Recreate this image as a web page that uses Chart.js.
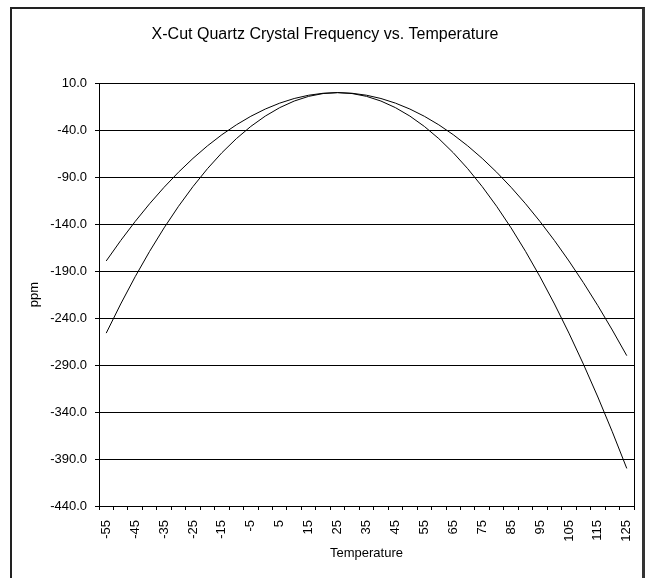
<!DOCTYPE html>
<html>
<head>
<meta charset="utf-8">
<script src="https://cdn.jsdelivr.net/npm/chart.js@4"></script>
<style>
  html, body { margin: 0; padding: 0; background: #fff; }
  #wrap { position: relative; width: 645px; height: 578px; }
  #frame {
    position: absolute; left: 10px; top: 7px; width: 630px; height: 600px;
    border-left: 2px solid #222; border-top: 2px solid #222; border-right: 3px solid #333;
    pointer-events: none;
  }
</style>
</head>
<body>
<div id="wrap">
  <canvas id="chart" width="645" height="578"></canvas>
  <div id="frame"></div>
</div>
<script>
// Temperature categories (deg C)
const temps = [-55, -50, -45, -40, -35, -30, -25, -20, -15, -10, -5, 0, 5, 10, 15, 20, 25,
    30, 35, 40, 45, 50, 55, 60, 65, 70, 75, 80, 85, 90, 95, 100, 105, 110, 115, 120, 125];

// shallower curve (ppm)
const curveA = [-179.2, -157.5, -137.2, -118.3, -100.8, -84.7, -70.0, -56.7, -44.8, -34.3, -25.2,
    -17.5, -11.2, -6.3, -2.8, -0.7, 0.0, -0.7, -2.8, -6.3, -11.2, -17.5, -25.2, -34.3, -44.8,
    -56.7, -70.0, -84.7, -100.8, -118.3, -137.2, -157.5, -179.2, -202.3, -226.8, -252.7, -280.0];

// steeper curve (ppm)
const curveB = [-256, -225, -196, -169, -144, -121, -100, -81, -64, -49, -36, -25, -16, -9, -4,
    -1, 0, -1, -4, -9, -16, -25, -36, -49, -64, -81, -100, -121, -144, -169, -196, -225, -256,
    -289, -324, -361, -400];

const yMin = -440;
const yMax = 10;
const yStep = 50;

const font = 'Liberation Sans, Arial, sans-serif';

// box round the plot area
const plotBox = {
    id: 'plotBox',
    afterDraw(chart) {
        const a = chart.chartArea;
        const ctx = chart.ctx;
        ctx.save();
        ctx.strokeStyle = '#000';
        ctx.lineWidth = 1;
        ctx.strokeRect(Math.round(a.left) + 0.5, Math.round(a.top) + 0.5,
            Math.round(a.right - a.left), Math.round(a.bottom - a.top));
        ctx.restore();
    }
};

document.addEventListener('DOMContentLoaded', function () {
    const ctx = document.getElementById('chart').getContext('2d');
    new Chart(ctx, {
        type: 'line',
        data: {
            labels: temps,
            datasets: [{
                data: curveA,
                borderColor: '#000',
                borderWidth: 1,
                pointRadius: 0,
                tension: 0
            }, {
                data: curveB,
                borderColor: '#000',
                borderWidth: 1,
                pointRadius: 0,
                tension: 0
            }]
        },
        options: {
            responsive: false,
            animation: false,
            layout: { padding: { left: 8, right: 3, top: 0, bottom: 0 } },
            plugins: {
                legend: { display: false },
                tooltip: { enabled: false },
                title: {
                    display: true,
                    text: 'X-Cut Quartz Crystal Frequency vs. Temperature',
                    color: '#000',
                    font: { family: font, size: 16, weight: 'normal' },
                    padding: { top: 25, bottom: 39 }
                }
            },
            scales: {
                x: {
                    type: 'category',
                    offset: true,
                    grid: {
                        offset: true,
                        drawOnChartArea: false,
                        drawTicks: true,
                        tickLength: 4,
                        color: '#000'
                    },
                    border: { color: '#000' },
                    ticks: {
                        autoSkip: false,
                        maxRotation: 90,
                        minRotation: 90,
                        padding: 10,
                        color: '#000',
                        font: { family: font, size: 13 },
                        callback: function (val, i) {
                            return i % 2 === 0 ? String(temps[i]) : '';
                        }
                    },
                    title: {
                        display: true,
                        text: 'Temperature',
                        color: '#000',
                        font: { family: font, size: 13 },
                        padding: { top: 4, bottom: 17 }
                    },
                    afterFit: function (scale) {
                        scale.height = 72;
                        scale.paddingLeft = 0;
                        scale.paddingRight = 0;
                    }
                },
                y: {
                    min: yMin,
                    max: yMax,
                    grid: {
                        color: '#000',
                        tickLength: 4,
                        drawTicks: true
                    },
                    border: { color: '#000' },
                    ticks: {
                        stepSize: yStep,
                        padding: 8,
                        color: '#000',
                        font: { family: font, size: 13 },
                        callback: function (v) { return v.toFixed(1); }
                    },
                    title: {
                        display: true,
                        text: 'ppm',
                        color: '#000',
                        font: { family: font, size: 13 },
                        padding: { top: 19, bottom: 0 }
                    },
                    afterFit: function (scale) { scale.width = 91; }
                },
                // empty strip on the right, keeps the plot off the frame
                yRight: {
                    position: 'right',
                    display: true,
                    grid: { display: false },
                    border: { display: false },
                    ticks: { display: false },
                    afterFit: function (scale) { scale.width = 8; }
                }
            }
        },
        plugins: [plotBox]
    });
});
</script>
</body>
</html>
